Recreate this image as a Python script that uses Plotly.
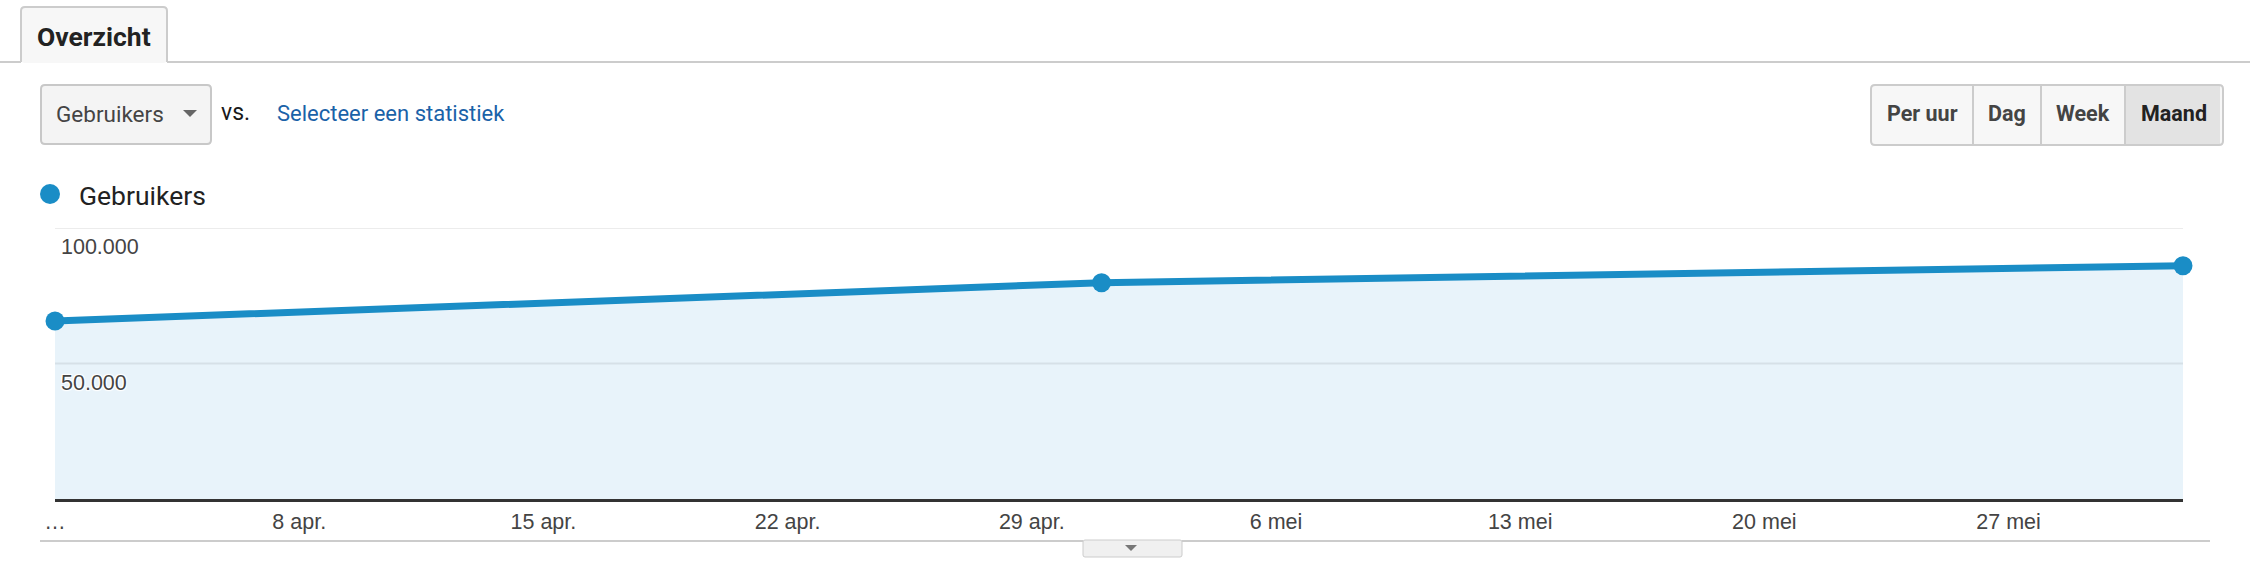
import plotly.graph_objects as go

# ---------------- data ----------------
dates = ["2018-04-01", "2018-05-01", "2018-06-01"]
gebruikers = [65700, 79800, 86100]
tick_dates = ["2018-04-01", "2018-04-08", "2018-04-15", "2018-04-22", "2018-04-29",
              "2018-05-06", "2018-05-13", "2018-05-20", "2018-05-27"]
tick_labels = ["…", "8 apr.", "15 apr.", "22 apr.", "29 apr.",
               "6 mei", "13 mei", "20 mei", "27 mei"]
y_ticks = [50000, 100000]
period_buttons = ["Per uur", "Dag", "Week", "Maand"]

# ---------------- geometry ----------------
W, H = 2250, 570
L, R, T, B = 55, 2183, 228, 499  # plot area in pixels


def px(x):
    return (x - L) / (R - L)


def py(y):
    return (B - y) / (B - T)


def rrect(x0, y0, x1, y1, r):
    """rounded rectangle path in paper coords from pixel coords"""
    pts = [
        f"M {px(x0 + r)},{py(y0)}",
        f"L {px(x1 - r)},{py(y0)}",
        f"Q {px(x1)},{py(y0)} {px(x1)},{py(y0 + r)}",
        f"L {px(x1)},{py(y1 - r)}",
        f"Q {px(x1)},{py(y1)} {px(x1 - r)},{py(y1)}",
        f"L {px(x0 + r)},{py(y1)}",
        f"Q {px(x0)},{py(y1)} {px(x0)},{py(y1 - r)}",
        f"L {px(x0)},{py(y0 + r)}",
        f"Q {px(x0)},{py(y0)} {px(x0 + r)},{py(y0)}",
        "Z",
    ]
    return " ".join(pts)


shapes = []
annotations = []


def pline(x0, y0, x1, y1, color="#cccccc", width=2):
    shapes.append(dict(type="line", xref="paper", yref="paper",
                       x0=px(x0), y0=py(y0), x1=px(x1), y1=py(y1),
                       line=dict(color=color, width=width), layer="above"))


def text(x, y, s, size, color, family="Roboto", weight=400, xanchor="left", shadow=None):
    f = dict(family=family, size=size, color=color, weight=weight)
    if shadow:
        f["shadow"] = shadow
    annotations.append(dict(xref="paper", yref="paper", x=px(x), y=py(y), text=s,
                            showarrow=False, xanchor=xanchor, yanchor="middle",
                            font=f))


# ---- gridlines drawn over the area fill ----
for v in y_ticks:
    shapes.append(dict(type="line", xref="paper", yref="y", x0=0, x1=1, y0=v, y1=v,
                       line=dict(color="rgba(0,0,0,0.075)", width=2), layer="above"))

# ---- tab "Overzicht" ----
pline(0, 62, 21, 62)
pline(167, 62, W, 62)
shapes.append(dict(type="path", xref="paper", yref="paper",
                   path=rrect(21, 7, 167, 63, 4), fillcolor="#f7f7f7",
                   line=dict(width=0), layer="above"))
r = 4
tab_path = (f"M {px(21)},{py(62)} L {px(21)},{py(7 + r)} Q {px(21)},{py(7)} {px(21 + r)},{py(7)} "
            f"L {px(167 - r)},{py(7)} Q {px(167)},{py(7)} {px(167)},{py(7 + r)} L {px(167)},{py(62)}")
shapes.append(dict(type="path", xref="paper", yref="paper", path=tab_path,
                   fillcolor="rgba(0,0,0,0)", line=dict(color="#cccccc", width=2), layer="above"))
text(94, 36, "Overzicht", 26.5, "#222222", weight=700, xanchor="center")

# ---- dropdown ----
shapes.append(dict(type="path", xref="paper", yref="paper", path=rrect(41, 85, 211, 144, 4),
                   fillcolor="#f4f4f4", line=dict(color="#c8c8c8", width=2), layer="above"))
text(54, 114, "Gebruikers", 22.5, "#444444")
shapes.append(dict(type="path", xref="paper", yref="paper",
                   path=f"M {px(183)},{py(110)} L {px(197)},{py(110)} L {px(190)},{py(117)} Z",
                   fillcolor="#666666", line=dict(width=0), layer="above"))
text(219, 112, "vs.", 23, "#1a1a1a", weight=400)
text(275, 113, "Selecteer een statistiek", 22, "#1a62a8")

# ---- period buttons ----
bx = [1871, 1973, 2041, 2125, 2223]
shapes.append(dict(type="path", xref="paper", yref="paper", path=rrect(bx[0], 85, bx[-1], 145, 4),
                   fillcolor="#f7f7f7", line=dict(width=0), layer="above"))
shapes.append(dict(type="rect", xref="paper", yref="paper",
                   x0=px(bx[3]), x1=px(bx[4] - 3), y0=py(86), y1=py(144),
                   fillcolor="#e3e3e3", line=dict(width=0), layer="above"))
shapes.append(dict(type="path", xref="paper", yref="paper", path=rrect(bx[0], 85, bx[-1], 145, 4),
                   fillcolor="rgba(0,0,0,0)", line=dict(color="#cccccc", width=2), layer="above"))
for xd in bx[1:-1]:
    pline(xd, 86, xd, 144, color="#cccccc", width=2)
for i, lab in enumerate(period_buttons):
    cx = (bx[i] + bx[i + 1]) / 2
    active = lab == "Maand"
    text(cx, 113, lab, 21.5, "#222222" if active else "#444444", weight=700, xanchor="center")

# ---- legend ----
shapes.append(dict(type="circle", xref="paper", yref="paper",
                   x0=px(40), x1=px(60), y0=py(184), y1=py(204),
                   fillcolor="#1a8dc6", line=dict(width=0), layer="above"))
text(77, 195, "Gebruikers", 26.5, "#222222")

# ---- bottom line + small toggle button ----
pline(40, 541, 1083, 541)
pline(1182, 541, 2210, 541)
shapes.append(dict(type="path", xref="paper", yref="paper", path=rrect(1083, 540, 1182, 557, 2),
                   fillcolor="#f0f0f0", line=dict(color="#cccccc", width=1), layer="above"))
shapes.append(dict(type="path", xref="paper", yref="paper",
                   path=f"M {px(1125)},{py(545)} L {px(1137)},{py(545)} L {px(1131)},{py(551)} Z",
                   fillcolor="#777777", line=dict(width=0), layer="above"))

# ---- y labels inside plot ----
halo = "1px 1px 1px #fff, -1px -1px 1px #fff, 1px -1px 1px #fff, -1px 1px 1px #fff"
for v in y_ticks:
    annotations.append(dict(xref="paper", yref="y", x=0, y=v, xanchor="left", yanchor="top",
                            xshift=4, yshift=-5, showarrow=False,
                            text=f"{v:,}".replace(",", "."),
                            font=dict(family="Liberation Sans, Arial", size=21.5, color="#444444",
                                      shadow=halo)))

fig = go.Figure()
fig.add_trace(go.Scatter(
    x=dates, y=gebruikers, mode="lines+markers", name="Gebruikers",
    line=dict(color="#1a8dc6", width=7),
    marker=dict(size=19, color="#1a8dc6"),
    fill="tozeroy", fillcolor="#e8f3fa",
    cliponaxis=False, hoverinfo="skip",
))

fig.update_layout(
    width=W, height=H,
    margin=dict(l=L, r=W - R, t=T, b=H - B, pad=0),
    paper_bgcolor="white", plot_bgcolor="white",
    showlegend=False,
    shapes=shapes, annotations=annotations,
    xaxis=dict(type="date", range=[dates[0], dates[-1]],
               tickmode="array", tickvals=tick_dates, ticktext=tick_labels,
               showgrid=False, zeroline=False,
               showline=True, linecolor="#333333", linewidth=3,
               ticks="", ticklabelstandoff=1,
               tickfont=dict(family="Liberation Sans, Arial", size=21.5, color="#444444")),
    yaxis=dict(range=[0, 100000], tickvals=y_ticks, showticklabels=False,
               showgrid=False, zeroline=False, showline=False, ticks=""),
)

fig.write_html("out.html", config={"displayModeBar": False},
               post_script="document.body.style.margin='0';document.body.style.overflow='hidden';")
